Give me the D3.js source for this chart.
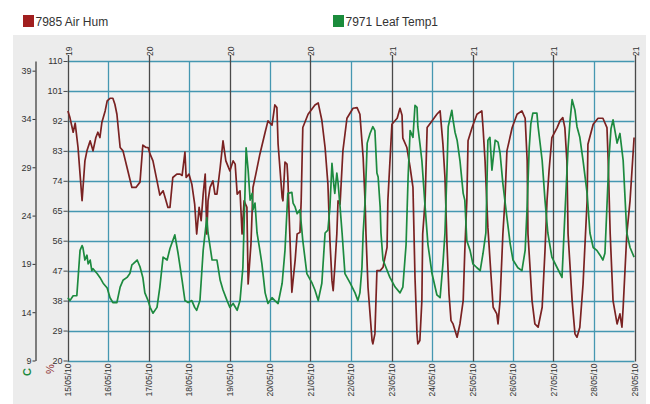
<!DOCTYPE html>
<html><head><meta charset="utf-8">
<script src="https://cdn.jsdelivr.net/npm/d3@7"></script>
<style>
body{margin:0;background:#fff;}
svg{display:block;font-family:"Liberation Sans",Arial,sans-serif;}
</style>
</head><body>
<svg id="chart" width="650" height="404"></svg>
<script>
// ---------- data ----------
const seriesNames = ["7985 Air Hum", "7971 Leaf Temp1"];
const dayLabels = ["15/05/10","16/05/10","17/05/10","18/05/10","19/05/10","20/05/10","21/05/10","22/05/10","23/05/10","24/05/10","25/05/10","26/05/10","27/05/10","28/05/10","29/05/10"];
const weekLabels = ["19","20","20","20","21","21","21","21"];
const humTicks = [20,29,38,47,56,65,74,83,92,101,110];
const tempTicks = [9,14,19,24,29,34,39];

// time in days since 15/05/10 00:00
const humDays = [0.01,0.06,0.14,0.19,0.26,0.31,0.36,0.43,0.48,0.56,0.63,0.70,0.75,0.80,0.85,0.93,0.98,1.05,1.12,1.17,1.22,1.30,1.37,1.47,1.59,1.69,1.79,1.86,1.94,1.99,2.04,2.11,2.21,2.28,2.36,2.41,2.48,2.53,2.60,2.70,2.78,2.83,2.90,2.93,3.00,3.07,3.14,3.19,3.25,3.30,3.35,3.40,3.44,3.47,3.52,3.59,3.64,3.69,3.77,3.84,3.91,4.01,4.09,4.14,4.19,4.26,4.31,4.36,4.43,4.46,4.53,4.58,4.65,4.75,4.88,4.95,5.05,5.12,5.17,5.20,5.30,5.32,5.37,5.42,5.44,5.54,5.62,5.67,5.74,5.77,5.81,5.94,6.11,6.19,6.28,6.36,6.43,6.48,6.53,6.56,6.60,6.65,6.68,6.73,6.80,6.90,7.05,7.15,7.22,7.30,7.35,7.37,7.42,7.52,7.54,7.59,7.64,7.72,7.79,7.89,7.91,8.01,8.14,8.21,8.26,8.28,8.38,8.46,8.53,8.58,8.63,8.65,8.70,8.75,8.77,8.83,8.88,9.00,9.12,9.20,9.27,9.32,9.37,9.42,9.47,9.52,9.62,9.69,9.77,9.81,9.86,9.89,9.99,10.11,10.23,10.26,10.31,10.38,10.46,10.51,10.60,10.63,10.68,10.75,10.80,10.85,10.98,11.10,11.22,11.30,11.35,11.37,11.47,11.54,11.62,11.72,11.79,11.84,11.89,11.96,12.09,12.16,12.23,12.28,12.33,12.36,12.46,12.53,12.58,12.65,12.73,12.83,12.85,12.98,13.10,13.22,13.32,13.35,13.40,13.47,13.57,13.64,13.69,13.72,13.81,13.89,13.99];
const humValues = [95,93,88.6,91.3,84,76,68,80,83,86,83,87,88.6,87,91.6,95,98,98.8,98.8,97,94,84,83,78,72,72,73.6,84.7,84,84,82,80,74,69.7,71,69,66,66,75,76,76,75.6,82.6,75,76,73,67,58,66,62,70,76,58,68,72,74,70,70,78,86,80,77,80,79,70,71,58,68,66,43,55,72,76,82,88.6,92,90.7,96.8,96,85,69,68,79.6,79,75,40.5,50,58,58.5,68,90,94,96.8,97.4,92.2,84,73,56,44,41,48,58,68,67,83,92.8,95.8,96,94,81,67,58,42,26,25,28,47,47,48,54,68,91,92.8,95.8,93.7,86.8,84,78,72,45,28,25,26,38,58,68,90,92,94,95,85,75,55,40,32,31,27,31,38,53,68,86,90,94,95,90,80,60,45,36,34,31,38,58,68,83,90,94,95,92.8,80,58,38,31,30,36,53,68,77,87,90,92,93,90,80,58,38,28,27,30,43,68,85,91,92.8,92.8,90,80,58,38,31,34,30,36,58,68,87];

const tempDays = [0.01,0.06,0.14,0.23,0.31,0.36,0.38,0.43,0.48,0.51,0.56,0.60,0.63,0.73,0.80,0.88,0.98,1.05,1.12,1.22,1.30,1.37,1.47,1.54,1.59,1.62,1.72,1.79,1.86,1.91,1.99,2.04,2.11,2.21,2.28,2.36,2.46,2.53,2.65,2.73,2.83,2.90,2.98,3.07,3.14,3.19,3.27,3.35,3.44,3.47,3.57,3.69,3.77,3.84,3.94,4.01,4.09,4.19,4.26,4.33,4.38,4.41,4.46,4.51,4.56,4.58,4.63,4.68,4.75,4.80,4.88,4.95,5.05,5.12,5.20,5.30,5.37,5.42,5.44,5.54,5.57,5.62,5.67,5.74,5.81,5.91,6.04,6.11,6.19,6.28,6.36,6.43,6.48,6.53,6.58,6.60,6.65,6.68,6.73,6.78,6.85,6.98,7.10,7.17,7.22,7.27,7.30,7.35,7.40,7.47,7.54,7.59,7.64,7.67,7.72,7.74,7.79,7.96,8.09,8.21,8.28,8.36,8.41,8.46,8.53,8.58,8.63,8.65,8.70,8.75,8.83,8.90,9.00,9.12,9.20,9.27,9.32,9.37,9.40,9.49,9.52,9.57,9.62,9.69,9.77,9.81,9.86,9.94,10.01,10.11,10.19,10.26,10.33,10.38,10.43,10.48,10.56,10.63,10.68,10.75,10.85,10.93,11.00,11.12,11.22,11.30,11.35,11.40,11.44,11.49,11.59,11.62,11.72,11.79,11.86,11.96,12.09,12.21,12.28,12.36,12.41,12.46,12.53,12.58,12.65,12.73,12.83,12.90,12.98,13.07,13.15,13.22,13.27,13.30,13.37,13.42,13.47,13.57,13.64,13.72,13.81,13.89,13.99];
const tempValues = [15.5,15.2,15.7,15.7,20.4,20.9,20.7,19.4,19.9,19,19.4,18.3,18.5,18,17.6,17,16.5,15.5,15,15,16.6,17.3,17.6,18,18.9,19,19.4,18.7,17.6,16,15.2,14.5,13.9,14.5,16.6,19.7,19.4,20.6,22,20.1,17.3,15.2,15,15.2,14.5,14.2,15.2,20.4,23.8,22.2,19.4,19.4,17.3,16.3,15.2,14.5,14.9,14.2,15.2,18.6,26,31,28.7,25.6,26.3,24.6,25.3,22.2,20.4,19,16,14.9,15.5,15.2,14.9,17,20.4,24.6,26.3,26.4,25.3,24.9,24.2,24.6,21.4,18,17,16.3,15.2,17,22.2,22.5,24.9,29.4,27,26.3,28.4,27.4,24.9,22.2,18,17,16,15.2,16,18.6,22.2,25.6,31.5,32.5,33.2,32.8,28.4,28,24.9,22.2,19.4,17.6,16.6,16,16.6,21,28,32.8,32.1,35.4,35.2,33.2,31.5,29.7,24.9,21,18,15.8,15.5,19,22.2,28.7,33.2,34.9,33.9,32.6,31.8,29.7,26.3,25.6,21.4,20.4,19,18.6,18.3,20.1,22.2,31.8,32.1,28.7,31.8,31.6,30.5,27.3,23.8,21.1,19.4,18.6,18.3,20.4,25,31,33.5,34.6,34.6,33.2,29.7,25.6,22.2,19.7,18.6,17.6,24,31,33.9,36,34.9,33.2,32.1,29.7,26.3,22.2,20.7,20.4,19.9,19.4,20.1,23,30,33,33.9,31.5,32.5,29.7,22.2,20.7,19.7];

// ---------- drawing ----------
const svg = d3.select("#chart");
const start = Date.UTC(2010,4,15), end = Date.UTC(2010,4,29);
const plot = {left:67.5, right:634.5, top:61, bottom:360.5};
const x = d3.scaleUtc().domain([start, end]).range([plot.left, plot.right]);
const yHum = d3.scaleLinear().domain([20,110]).range([plot.bottom, plot.top]);
const yTemp = d3.scaleLinear().domain([9,40]).range([plot.bottom, plot.top]);
const dayDate = d => new Date(start + d*86400000);

const colHum = "#7a2222", colTemp = "#1d8a3f", gridTeal = "#4597b1", gridDark = "#4a4a4a", txt = "#333";

// panel background
svg.append("rect").attr("x",13).attr("y",35).attr("width",633).attr("height",369).attr("fill","#ececec");
svg.append("rect").attr("x",plot.left).attr("y",plot.top).attr("width",plot.right-plot.left).attr("height",plot.bottom-plot.top).attr("fill","#f2f2f2");

// legend
const legend = [{name:seriesNames[0], color:"#a11f1f", x:23},{name:seriesNames[1], color:"#1b8c3c", x:333}];
legend.forEach(l=>{
  svg.append("rect").attr("x",l.x).attr("y",15).attr("width",11).attr("height",12).attr("fill",l.color);
  svg.append("text").attr("x",l.x+12.5).attr("y",26).attr("font-size",12).attr("fill",txt).text(l.name);
});

// horizontal grid
svg.append("g").selectAll("line").data(humTicks).join("line")
  .attr("x1",plot.left).attr("x2",plot.right)
  .attr("y1",d=>Math.round(yHum(d))+0.5).attr("y2",d=>Math.round(yHum(d))+0.5)
  .attr("stroke",gridTeal).attr("stroke-width",1.3);

// vertical day lines
const days = d3.utcDay.range(start, end + 1);
svg.append("g").selectAll("line").data(days).join("line")
  .attr("x1",d=>Math.round(x(d))+0.5).attr("x2",d=>Math.round(x(d))+0.5)
  .attr("y1",(d,i)=> i%2===0 ? 55 : plot.top).attr("y2",plot.bottom+1)
  .attr("stroke",(d,i)=> i%2===0 ? gridDark : gridTeal).attr("stroke-width",1.3);

// week labels at top
svg.append("g").selectAll("text").data(days.filter((d,i)=>i%2===0)).join("text")
  .attr("transform",(d)=>`translate(${Math.round(x(d))+3.5},56) rotate(-90)`)
  .attr("font-size",8.5).attr("fill",txt).attr("text-anchor","start")
  .text((d,i)=>weekLabels[i]);

// bottom date axis
const xAxis = d3.axisBottom(x).tickValues(days).tickSize(0).tickFormat((d,i)=>dayLabels[i]);
const gx = svg.append("g").attr("transform",`translate(0,${plot.bottom+1})`).call(xAxis);
gx.select(".domain").remove();
gx.selectAll("text").attr("font-size",8.5).attr("fill",txt)
  .attr("transform","rotate(-90)").attr("text-anchor","end")
  .attr("x",-2).attr("y",0).attr("dy","0.35em");

// % axis
const gh = svg.append("g").attr("transform",`translate(${plot.left},0)`)
  .call(d3.axisLeft(yHum).tickValues(humTicks).tickSize(4).tickPadding(1));
gh.select(".domain").remove();
gh.selectAll("line").attr("stroke",gridDark);
gh.selectAll("text").attr("font-size",9).attr("fill",txt).attr("font-family","Liberation Sans, Arial, sans-serif");

// C axis
const gt = svg.append("g").attr("transform",`translate(35.5,0)`)
  .call(d3.axisLeft(yTemp).tickValues(tempTicks).tickSize(3).tickPadding(1).tickSizeOuter(0));
gt.select(".domain").attr("stroke","#333").attr("stroke-width",1.2);
gt.selectAll(".tick line").attr("stroke","#333");
gt.selectAll("text").attr("font-size",9).attr("fill",txt).attr("font-family","Liberation Sans, Arial, sans-serif");

// unit labels
svg.append("text").attr("transform","translate(31,372) rotate(-90)").attr("font-size",11).attr("font-weight","bold")
  .attr("fill",colTemp).attr("text-anchor","middle").text("C");
svg.append("text").attr("transform","translate(54,369) rotate(-90)").attr("font-size",11)
  .attr("fill","#8a2a2a").attr("text-anchor","middle").text("%");

// lines
const humData = humDays.map((d,i)=>({t:dayDate(d), v:humValues[i]}));
const tempData = tempDays.map((d,i)=>({t:dayDate(d), v:tempValues[i]}));
svg.append("path").datum(humData)
  .attr("d", d3.line().x(d=>x(d.t)).y(d=>yHum(d.v)))
  .attr("fill","none").attr("stroke",colHum).attr("stroke-width",1.7).attr("stroke-linejoin","round");
svg.append("path").datum(tempData)
  .attr("d", d3.line().x(d=>x(d.t)).y(d=>yTemp(d.v)))
  .attr("fill","none").attr("stroke",colTemp).attr("stroke-width",1.7).attr("stroke-linejoin","round");
</script>
</body></html>
